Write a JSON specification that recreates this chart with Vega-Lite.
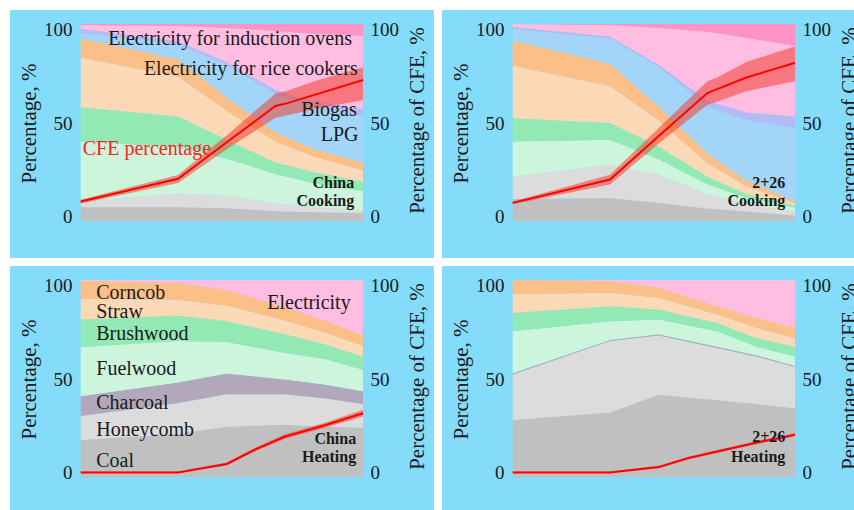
{
  "$schema": "https://vega.github.io/schema/vega-lite/v6.json",
  "background": "white",
  "padding": {"left": 10, "top": 10, "right": 0, "bottom": 0},
  "columns": 2,
  "spacing": 8,
  "bounds": "flush",
  "datasets": {
    "fuels": [
      {"fuel": "Coal", "rank": 1}, {"fuel": "Honeycomb", "rank": 2}, {"fuel": "Charcoal", "rank": 3},
      {"fuel": "Fuelwood", "rank": 4}, {"fuel": "Brushwood", "rank": 5}, {"fuel": "Straw", "rank": 6},
      {"fuel": "Corncob", "rank": 7}, {"fuel": "LPG", "rank": 8}, {"fuel": "Biogas", "rank": 9},
      {"fuel": "Rice", "rank": 10}, {"fuel": "Induction", "rank": 11}, {"fuel": "Electricity", "rank": 12}
    ],
    "cook_cn": [
      {"year": 1992, "Coal": 7, "Honeycomb": 3, "Fuelwood": 30.4, "Brushwood": 17.4, "Straw": 25.2, "Corncob": 9.7, "LPG": 2.9, "Biogas": 2.0, "Rice": 1.9, "Induction": 0.5},
      {"year": 2002, "Coal": 7, "Honeycomb": 7, "Fuelwood": 23.5, "Brushwood": 15.5, "Straw": 20.3, "Corncob": 8.8, "LPG": 7.7, "Biogas": 1.5, "Rice": 7.7, "Induction": 1},
      {"year": 2007, "Coal": 6.5, "Honeycomb": 6.5, "Fuelwood": 18.6, "Brushwood": 9.7, "Straw": 14.6, "Corncob": 6.8, "LPG": 16.5, "Biogas": 1.4, "Rice": 17.4, "Induction": 2},
      {"year": 2012, "Coal": 5, "Honeycomb": 4, "Fuelwood": 14.9, "Brushwood": 5.8, "Straw": 10.7, "Corncob": 4.8, "LPG": 19.4, "Biogas": 2.0, "Rice": 29.9, "Induction": 3.5},
      {"year": 2016, "Coal": 4.5, "Honeycomb": 2.5, "Fuelwood": 12, "Brushwood": 5.8, "Straw": 7.8, "Corncob": 3.9, "LPG": 21.3, "Biogas": 2.9, "Rice": 34.3, "Induction": 5},
      {"year": 2021, "Coal": 4, "Honeycomb": 1.5, "Fuelwood": 9.6, "Brushwood": 4.9, "Straw": 5.8, "Corncob": 3.9, "LPG": 23.3, "Biogas": 3.8, "Rice": 37.2, "Induction": 6}
    ],
    "cook_226": [
      {"year": 1992, "Coal": 11.2, "Honeycomb": 11.3, "Fuelwood": 17.8, "Brushwood": 11.9, "Straw": 26.6, "Corncob": 12.8, "LPG": 6.0, "Biogas": 0.9, "Rice": 1.5, "Induction": 0},
      {"year": 2002, "Coal": 11.7, "Honeycomb": 16.8, "Fuelwood": 12.8, "Brushwood": 8.4, "Straw": 18.8, "Corncob": 11.3, "LPG": 12.8, "Biogas": 1.0, "Rice": 5.9, "Induction": 0.5},
      {"year": 2007, "Coal": 9.2, "Honeycomb": 14.3, "Fuelwood": 7.9, "Brushwood": 6.4, "Straw": 13.4, "Corncob": 6.9, "LPG": 20.2, "Biogas": 1.0, "Rice": 18.7, "Induction": 2},
      {"year": 2012, "Coal": 6.3, "Honeycomb": 7.4, "Fuelwood": 4.9, "Brushwood": 3.9, "Straw": 7.0, "Corncob": 4.9, "LPG": 23.7, "Biogas": 2.9, "Rice": 35.0, "Induction": 4},
      {"year": 2016, "Coal": 4.8, "Honeycomb": 3.9, "Fuelwood": 3.0, "Brushwood": 2.0, "Straw": 3.9, "Corncob": 3.0, "LPG": 30.6, "Biogas": 3.9, "Rice": 37.9, "Induction": 7},
      {"year": 2021, "Coal": 2.8, "Honeycomb": 2.0, "Fuelwood": 2.0, "Brushwood": 0.9, "Straw": 1.5, "Corncob": 1.0, "LPG": 37.0, "Biogas": 5.9, "Rice": 35.9, "Induction": 11}
    ],
    "heat_cn": [
      {"year": 1992, "Coal": 18.8, "Honeycomb": 12.2, "Charcoal": 10, "Fuelwood": 25, "Brushwood": 14, "Straw": 10.5, "Corncob": 9, "Electricity": 0.5},
      {"year": 2002, "Coal": 22, "Honeycomb": 15.5, "Charcoal": 10.5, "Fuelwood": 21, "Brushwood": 13, "Straw": 8, "Corncob": 8.5, "Electricity": 1.5},
      {"year": 2007, "Coal": 25.5, "Honeycomb": 16.5, "Charcoal": 10.5, "Fuelwood": 16, "Brushwood": 10.5, "Straw": 8, "Corncob": 8, "Electricity": 5},
      {"year": 2013, "Coal": 26.5, "Honeycomb": 15.5, "Charcoal": 7.5, "Fuelwood": 13.5, "Brushwood": 9.5, "Straw": 7, "Corncob": 6.5, "Electricity": 14},
      {"year": 2017, "Coal": 25.5, "Honeycomb": 14.5, "Charcoal": 7, "Fuelwood": 13, "Brushwood": 7.5, "Straw": 6, "Corncob": 6, "Electricity": 20.5},
      {"year": 2021, "Coal": 25, "Honeycomb": 12, "Charcoal": 6.5, "Fuelwood": 11, "Brushwood": 6.5, "Straw": 5.5, "Corncob": 5.5, "Electricity": 28}
    ],
    "heat_226": [
      {"year": 1992, "Coal": 28.9, "Honeycomb": 23.1, "Charcoal": 0.6, "Fuelwood": 21.4, "Brushwood": 9.3, "Straw": 9.4, "Corncob": 7.3, "Electricity": 0},
      {"year": 2002, "Coal": 32.8, "Honeycomb": 36.2, "Charcoal": 0.6, "Fuelwood": 9.4, "Brushwood": 7.7, "Straw": 6.8, "Corncob": 6.0, "Electricity": 0.5},
      {"year": 2007, "Coal": 41.7, "Honeycomb": 30.1, "Charcoal": 0.6, "Fuelwood": 7.6, "Brushwood": 5.0, "Straw": 6.0, "Corncob": 5.0, "Electricity": 4},
      {"year": 2013, "Coal": 39, "Honeycomb": 26.5, "Charcoal": 0.6, "Fuelwood": 7.9, "Brushwood": 4.2, "Straw": 4.3, "Corncob": 4.2, "Electricity": 13.3},
      {"year": 2017, "Coal": 37, "Honeycomb": 24.2, "Charcoal": 0.6, "Fuelwood": 4.5, "Brushwood": 4.3, "Straw": 5.1, "Corncob": 5.1, "Electricity": 19.2},
      {"year": 2021, "Coal": 34.9, "Honeycomb": 20.9, "Charcoal": 0.6, "Fuelwood": 4.8, "Brushwood": 4.8, "Straw": 4.6, "Corncob": 5.1, "Electricity": 24.3}
    ],
    "cfe_cook_cn": [
      {"year": 1992, "cfe": 8.0, "lo": 7.0, "hi": 9.0},
      {"year": 2002, "cfe": 20.2, "lo": 17.9, "hi": 22.3},
      {"year": 2007, "cfe": 39.8, "lo": 36, "hi": 43.5},
      {"year": 2012, "cfe": 59.3, "lo": 53, "hi": 66},
      {"year": 2013, "cfe": 60.4, "lo": 54, "hi": 67},
      {"year": 2016, "cfe": 65.2, "lo": 57.5, "hi": 72.5},
      {"year": 2021, "cfe": 73.2, "lo": 62.5, "hi": 80}
    ],
    "cfe_cook_226": [
      {"year": 1992, "cfe": 7.3, "lo": 6.6, "hi": 8.0},
      {"year": 2002, "cfe": 19.8, "lo": 17.2, "hi": 22.4},
      {"year": 2007, "cfe": 43.2, "lo": 39.1, "hi": 47.4},
      {"year": 2012, "cfe": 66.2, "lo": 59.9, "hi": 72.5},
      {"year": 2013, "cfe": 68.3, "lo": 61.5, "hi": 74.5},
      {"year": 2016, "cfe": 74.5, "lo": 67.2, "hi": 82.9},
      {"year": 2021, "cfe": 82.4, "lo": 72.5, "hi": 91.2}
    ],
    "cfe_heat_cn": [
      {"year": 1992, "cfe": 0, "lo": 0, "hi": 0.5},
      {"year": 2002, "cfe": 0, "lo": 0, "hi": 0.6},
      {"year": 2007, "cfe": 4.6, "lo": 3.8, "hi": 5.4},
      {"year": 2010, "cfe": 12.5, "lo": 11.5, "hi": 13.5},
      {"year": 2013, "cfe": 19.3, "lo": 18.1, "hi": 20.5},
      {"year": 2017, "cfe": 25.2, "lo": 23.8, "hi": 26.6},
      {"year": 2021, "cfe": 31.8, "lo": 30, "hi": 33.6}
    ],
    "cfe_heat_226": [
      {"year": 1992, "cfe": 0, "lo": 0, "hi": 0.5},
      {"year": 2002, "cfe": 0, "lo": 0, "hi": 0.6},
      {"year": 2007, "cfe": 2.9, "lo": 2.2, "hi": 3.6},
      {"year": 2010, "cfe": 7.7, "lo": 6.9, "hi": 8.5},
      {"year": 2013, "cfe": 11.3, "lo": 10.5, "hi": 12.1},
      {"year": 2017, "cfe": 16, "lo": 15.2, "hi": 16.8},
      {"year": 2021, "cfe": 20.2, "lo": 19.4, "hi": 21}
    ]
  },
  "concat": [
    {
      "width": 424, "height": 248,
      "layer": [
        {
          "data": {"name": "cook_cn"},
          "transform": [
            {"fold": ["Coal", "Honeycomb", "Fuelwood", "Brushwood", "Straw", "Corncob", "LPG", "Biogas", "Rice", "Induction"], "as": ["fuel", "share"]},
            {"lookup": "fuel", "from": {"data": {"name": "fuels"}, "key": "fuel", "fields": ["rank"]}}
          ],
          "mark": {"type": "area"},
          "encoding": {
            "x": {"field": "year", "type": "quantitative", "scale": {"domain": [1984.74, 2028.29], "nice": false, "zero": false},
                  "axis": {"values": [1992, 1999, 2006, 2013, 2021], "format": "d", "title": null, "offset": -29, "labelPadding": 0, "labelFlush": false, "labelOverlap": false}},
            "y": {"field": "share", "type": "quantitative", "stack": "zero", "scale": {"domain": [-18.78, 107.1], "nice": false, "zero": false}, "axis": null},
            "color": {"field": "fuel", "type": "nominal", "legend": null,
                      "scale": {"domain": ["Coal", "Honeycomb", "Charcoal", "Fuelwood", "Brushwood", "Straw", "Corncob", "LPG", "Biogas", "Rice", "Induction", "Electricity"],
                                "range": ["#c0c0c0", "#dcdcdc", "#b3a8bb", "#cdf5dc", "#93e9b4", "#fcd9b6", "#fbbf87", "#a3d5f8", "#b2bbf5", "#ffbde2", "#ff92c6", "#ffbde2"]}},
            "order": {"field": "rank", "type": "quantitative"}
          }
        },
        {
          "data": {"name": "cfe_cook_cn"},
          "layer": [
            {
              "mark": {"type": "area", "color": "#f04030", "opacity": 0.55},
              "encoding": {
                "x": {"field": "year", "type": "quantitative", "scale": {"domain": [1984.74, 2028.29], "nice": false, "zero": false}, "axis": null},
                "y": {"field": "lo", "type": "quantitative", "scale": {"domain": [-22.25, 110.72], "nice": false, "zero": false},
                      "axis": {"orient": "left", "values": [0, 50, 100], "offset": -64, "labelPadding": 2, "title": "Percentage, %", "titleAngle": -90, "titleX": -45, "titleY": 113, "titleBaseline": "middle", "titleAlign": "center"}},
                "y2": {"field": "hi"}
              }
            },
            {
              "mark": {"type": "line", "color": "#ff0000", "strokeWidth": 2},
              "encoding": {
                "x": {"field": "year", "type": "quantitative", "axis": null},
                "y": {"field": "cfe", "type": "quantitative",
                      "axis": {"orient": "right", "values": [0, 50, 100], "offset": -66, "labelPadding": 2, "title": "Percentage of CFE, %", "titleAngle": -90, "titleX": 49.5, "titleY": 110, "titleBaseline": "middle", "titleAlign": "center"}}
              }
            }
          ]
        },
        {
          "layer": [
            {
              "data": {"values": [
                {"year": 2007.34, "v": 92.2, "t": "Electricity for induction ovens"},
                {"year": 2009.47, "v": 77.1, "t": "Electricity for rice cookers"},
                {"year": 2017.5, "v": 56.5, "t": "Biogas"},
                {"year": 2018.6, "v": 43.8, "t": "LPG"}
              ]},
              "mark": {"type": "text", "fontSize": 20, "color": "#1a1a1a", "align": "center", "baseline": "middle"},
              "encoding": {
                "x": {"field": "year", "type": "quantitative", "scale": {"domain": [1984.74, 2028.29], "nice": false, "zero": false}, "axis": null},
                "y": {"field": "v", "type": "quantitative", "scale": {"domain": [-18.78, 107.1], "nice": false, "zero": false}, "axis": null},
                "text": {"field": "t"}
              }
            },
            {
              "data": {"values": [{"year": 1998.8, "v": 36.3, "t": "CFE percentage"}]},
              "mark": {"type": "text", "fontSize": 20, "color": "#ff2020", "align": "center", "baseline": "middle"},
              "encoding": {
                "x": {"field": "year", "type": "quantitative", "axis": null},
                "y": {"field": "v", "type": "quantitative", "axis": null},
                "text": {"field": "t"}
              }
            },
            {
              "data": {"values": [{"year": 2020.1, "v": 19.4, "t": "China"}, {"year": 2020.1, "v": 10.1, "t": "Cooking"}]},
              "mark": {"type": "text", "fontSize": 16, "fontWeight": "bold", "color": "#1a1a1a", "align": "right", "baseline": "middle"},
              "encoding": {
                "x": {"field": "year", "type": "quantitative", "axis": null},
                "y": {"field": "v", "type": "quantitative", "axis": null},
                "text": {"field": "t"}
              }
            }
          ]
        }
      ],
      "resolve": {"scale": {"y": "independent"}}
    },
    {
      "width": 424, "height": 248,
      "layer": [
        {
          "data": {"name": "cook_226"},
          "transform": [
            {"fold": ["Coal", "Honeycomb", "Fuelwood", "Brushwood", "Straw", "Corncob", "LPG", "Biogas", "Rice", "Induction"], "as": ["fuel", "share"]},
            {"lookup": "fuel", "from": {"data": {"name": "fuels"}, "key": "fuel", "fields": ["rank"]}}
          ],
          "mark": {"type": "area"},
          "encoding": {
            "x": {"field": "year", "type": "quantitative", "scale": {"domain": [1984.74, 2028.29], "nice": false, "zero": false},
                  "axis": {"values": [1992, 1999, 2006, 2013, 2021], "format": "d", "title": null, "offset": -29, "labelPadding": 0, "labelFlush": false, "labelOverlap": false}},
            "y": {"field": "share", "type": "quantitative", "stack": "zero", "scale": {"domain": [-18.78, 107.1], "nice": false, "zero": false}, "axis": null},
            "color": {"field": "fuel", "type": "nominal", "legend": null,
                      "scale": {"domain": ["Coal", "Honeycomb", "Charcoal", "Fuelwood", "Brushwood", "Straw", "Corncob", "LPG", "Biogas", "Rice", "Induction", "Electricity"],
                                "range": ["#c0c0c0", "#dcdcdc", "#b3a8bb", "#cdf5dc", "#93e9b4", "#fcd9b6", "#fbbf87", "#a3d5f8", "#b2bbf5", "#ffbde2", "#ff92c6", "#ffbde2"]}},
            "order": {"field": "rank", "type": "quantitative"}
          }
        },
        {
          "data": {"name": "cfe_cook_226"},
          "layer": [
            {
              "mark": {"type": "area", "color": "#f04030", "opacity": 0.55},
              "encoding": {
                "x": {"field": "year", "type": "quantitative", "scale": {"domain": [1984.74, 2028.29], "nice": false, "zero": false}, "axis": null},
                "y": {"field": "lo", "type": "quantitative", "scale": {"domain": [-22.25, 110.72], "nice": false, "zero": false},
                      "axis": {"orient": "left", "values": [0, 50, 100], "offset": -64, "labelPadding": 2, "title": "Percentage, %", "titleAngle": -90, "titleX": -45, "titleY": 113, "titleBaseline": "middle", "titleAlign": "center"}},
                "y2": {"field": "hi"}
              }
            },
            {
              "mark": {"type": "line", "color": "#ff0000", "strokeWidth": 2},
              "encoding": {
                "x": {"field": "year", "type": "quantitative", "axis": null},
                "y": {"field": "cfe", "type": "quantitative",
                      "axis": {"orient": "right", "values": [0, 50, 100], "offset": -66, "labelPadding": 2, "title": "Percentage of CFE, %", "titleAngle": -90, "titleX": 49.5, "titleY": 110, "titleBaseline": "middle", "titleAlign": "center"}}
              }
            }
          ]
        },
        {
          "data": {"values": [{"year": 2020, "v": 19.4, "t": "2+26"}, {"year": 2020, "v": 10.1, "t": "Cooking"}]},
          "mark": {"type": "text", "fontSize": 16, "fontWeight": "bold", "color": "#1a1a1a", "align": "right", "baseline": "middle"},
          "encoding": {
            "x": {"field": "year", "type": "quantitative", "scale": {"domain": [1984.74, 2028.29], "nice": false, "zero": false}, "axis": null},
            "y": {"field": "v", "type": "quantitative", "scale": {"domain": [-18.78, 107.1], "nice": false, "zero": false}, "axis": null},
            "text": {"field": "t"}
          }
        }
      ],
      "resolve": {"scale": {"y": "independent"}}
    },
    {
      "width": 424, "height": 248,
      "layer": [
        {
          "data": {"name": "heat_cn"},
          "transform": [
            {"fold": ["Coal", "Honeycomb", "Charcoal", "Fuelwood", "Brushwood", "Straw", "Corncob", "Electricity"], "as": ["fuel", "share"]},
            {"lookup": "fuel", "from": {"data": {"name": "fuels"}, "key": "fuel", "fields": ["rank"]}}
          ],
          "mark": {"type": "area"},
          "encoding": {
            "x": {"field": "year", "type": "quantitative", "scale": {"domain": [1984.74, 2028.29], "nice": false, "zero": false},
                  "axis": {"values": [1992, 1999, 2006, 2013, 2021], "format": "d", "title": null, "offset": -29, "labelPadding": 0, "labelFlush": false, "labelOverlap": false}},
            "y": {"field": "share", "type": "quantitative", "stack": "zero", "scale": {"domain": [-18.78, 107.1], "nice": false, "zero": false}, "axis": null},
            "color": {"field": "fuel", "type": "nominal", "legend": null,
                      "scale": {"domain": ["Coal", "Honeycomb", "Charcoal", "Fuelwood", "Brushwood", "Straw", "Corncob", "LPG", "Biogas", "Rice", "Induction", "Electricity"],
                                "range": ["#c0c0c0", "#dcdcdc", "#b3a8bb", "#cdf5dc", "#93e9b4", "#fcd9b6", "#fbbf87", "#a3d5f8", "#b2bbf5", "#ffbde2", "#ff92c6", "#ffbde2"]}},
            "order": {"field": "rank", "type": "quantitative"}
          }
        },
        {
          "data": {"name": "cfe_heat_cn"},
          "layer": [
            {
              "mark": {"type": "area", "color": "#f04030", "opacity": 0.55},
              "encoding": {
                "x": {"field": "year", "type": "quantitative", "scale": {"domain": [1984.74, 2028.29], "nice": false, "zero": false}, "axis": null},
                "y": {"field": "lo", "type": "quantitative", "scale": {"domain": [-22.25, 110.72], "nice": false, "zero": false},
                      "axis": {"orient": "left", "values": [0, 50, 100], "offset": -64, "labelPadding": 2, "title": "Percentage, %", "titleAngle": -90, "titleX": -45, "titleY": 113, "titleBaseline": "middle", "titleAlign": "center"}},
                "y2": {"field": "hi"}
              }
            },
            {
              "mark": {"type": "line", "color": "#ff0000", "strokeWidth": 2},
              "encoding": {
                "x": {"field": "year", "type": "quantitative", "axis": null},
                "y": {"field": "cfe", "type": "quantitative",
                      "axis": {"orient": "right", "values": [0, 50, 100], "offset": -66, "labelPadding": 2, "title": "Percentage of CFE, %", "titleAngle": -90, "titleX": 49.5, "titleY": 110, "titleBaseline": "middle", "titleAlign": "center"}}
              }
            }
          ]
        },
        {
          "layer": [
            {
              "data": {"values": [
                {"year": 1993.6, "v": 93.5, "t": "Corncob"},
                {"year": 1993.6, "v": 83.8, "t": "Straw"},
                {"year": 1993.6, "v": 72.4, "t": "Brushwood"},
                {"year": 1993.6, "v": 54.9, "t": "Fuelwood"},
                {"year": 1993.6, "v": 37.4, "t": "Charcoal"},
                {"year": 1993.6, "v": 23.8, "t": "Honeycomb"},
                {"year": 1993.6, "v": 8.2, "t": "Coal"}
              ]},
              "mark": {"type": "text", "fontSize": 20, "color": "#1a1a1a", "align": "left", "baseline": "middle"},
              "encoding": {
                "x": {"field": "year", "type": "quantitative", "scale": {"domain": [1984.74, 2028.29], "nice": false, "zero": false}, "axis": null},
                "y": {"field": "v", "type": "quantitative", "scale": {"domain": [-18.78, 107.1], "nice": false, "zero": false}, "axis": null},
                "text": {"field": "t"}
              }
            },
            {
              "data": {"values": [{"year": 2015.45, "v": 88.1, "t": "Electricity"}]},
              "mark": {"type": "text", "fontSize": 20, "color": "#1a1a1a", "align": "center", "baseline": "middle"},
              "encoding": {
                "x": {"field": "year", "type": "quantitative", "axis": null},
                "y": {"field": "v", "type": "quantitative", "axis": null},
                "text": {"field": "t"}
              }
            },
            {
              "data": {"values": [{"year": 2020.3, "v": 19.2, "t": "China"}, {"year": 2020.3, "v": 9.9, "t": "Heating"}]},
              "mark": {"type": "text", "fontSize": 16, "fontWeight": "bold", "color": "#1a1a1a", "align": "right", "baseline": "middle"},
              "encoding": {
                "x": {"field": "year", "type": "quantitative", "axis": null},
                "y": {"field": "v", "type": "quantitative", "axis": null},
                "text": {"field": "t"}
              }
            }
          ]
        }
      ],
      "resolve": {"scale": {"y": "independent"}}
    },
    {
      "width": 424, "height": 248,
      "layer": [
        {
          "data": {"name": "heat_226"},
          "transform": [
            {"fold": ["Coal", "Honeycomb", "Charcoal", "Fuelwood", "Brushwood", "Straw", "Corncob", "Electricity"], "as": ["fuel", "share"]},
            {"lookup": "fuel", "from": {"data": {"name": "fuels"}, "key": "fuel", "fields": ["rank"]}}
          ],
          "mark": {"type": "area"},
          "encoding": {
            "x": {"field": "year", "type": "quantitative", "scale": {"domain": [1984.74, 2028.29], "nice": false, "zero": false},
                  "axis": {"values": [1992, 1999, 2006, 2013, 2021], "format": "d", "title": null, "offset": -29, "labelPadding": 0, "labelFlush": false, "labelOverlap": false}},
            "y": {"field": "share", "type": "quantitative", "stack": "zero", "scale": {"domain": [-18.78, 107.1], "nice": false, "zero": false}, "axis": null},
            "color": {"field": "fuel", "type": "nominal", "legend": null,
                      "scale": {"domain": ["Coal", "Honeycomb", "Charcoal", "Fuelwood", "Brushwood", "Straw", "Corncob", "LPG", "Biogas", "Rice", "Induction", "Electricity"],
                                "range": ["#c0c0c0", "#dcdcdc", "#b3a8bb", "#cdf5dc", "#93e9b4", "#fcd9b6", "#fbbf87", "#a3d5f8", "#b2bbf5", "#ffbde2", "#ff92c6", "#ffbde2"]}},
            "order": {"field": "rank", "type": "quantitative"}
          }
        },
        {
          "data": {"name": "cfe_heat_226"},
          "layer": [
            {
              "mark": {"type": "area", "color": "#f04030", "opacity": 0.55},
              "encoding": {
                "x": {"field": "year", "type": "quantitative", "scale": {"domain": [1984.74, 2028.29], "nice": false, "zero": false}, "axis": null},
                "y": {"field": "lo", "type": "quantitative", "scale": {"domain": [-22.25, 110.72], "nice": false, "zero": false},
                      "axis": {"orient": "left", "values": [0, 50, 100], "offset": -64, "labelPadding": 2, "title": "Percentage, %", "titleAngle": -90, "titleX": -45, "titleY": 113, "titleBaseline": "middle", "titleAlign": "center"}},
                "y2": {"field": "hi"}
              }
            },
            {
              "mark": {"type": "line", "color": "#ff0000", "strokeWidth": 2},
              "encoding": {
                "x": {"field": "year", "type": "quantitative", "axis": null},
                "y": {"field": "cfe", "type": "quantitative",
                      "axis": {"orient": "right", "values": [0, 50, 100], "offset": -66, "labelPadding": 2, "title": "Percentage of CFE, %", "titleAngle": -90, "titleX": 49.5, "titleY": 110, "titleBaseline": "middle", "titleAlign": "center"}}
              }
            }
          ]
        },
        {
          "data": {"values": [{"year": 2020, "v": 20.1, "t": "2+26"}, {"year": 2020, "v": 9.9, "t": "Heating"}]},
          "mark": {"type": "text", "fontSize": 16, "fontWeight": "bold", "color": "#1a1a1a", "align": "right", "baseline": "middle"},
          "encoding": {
            "x": {"field": "year", "type": "quantitative", "scale": {"domain": [1984.74, 2028.29], "nice": false, "zero": false}, "axis": null},
            "y": {"field": "v", "type": "quantitative", "scale": {"domain": [-18.78, 107.1], "nice": false, "zero": false}, "axis": null},
            "text": {"field": "t"}
          }
        }
      ],
      "resolve": {"scale": {"y": "independent"}}
    }
  ],
  "config": {
    "view": {"fill": "#84dcfa", "stroke": null},
    "font": "Liberation Serif",
    "text": {"font": "Liberation Serif"},
    "axis": {
      "domain": false, "ticks": false, "grid": false,
      "labelFont": "Liberation Serif", "labelFontSize": 19, "labelColor": "#1a1a1a",
      "titleFont": "Liberation Serif", "titleFontSize": 21, "titleFontWeight": "normal", "titleColor": "#1a1a1a"
    }
  }
}
